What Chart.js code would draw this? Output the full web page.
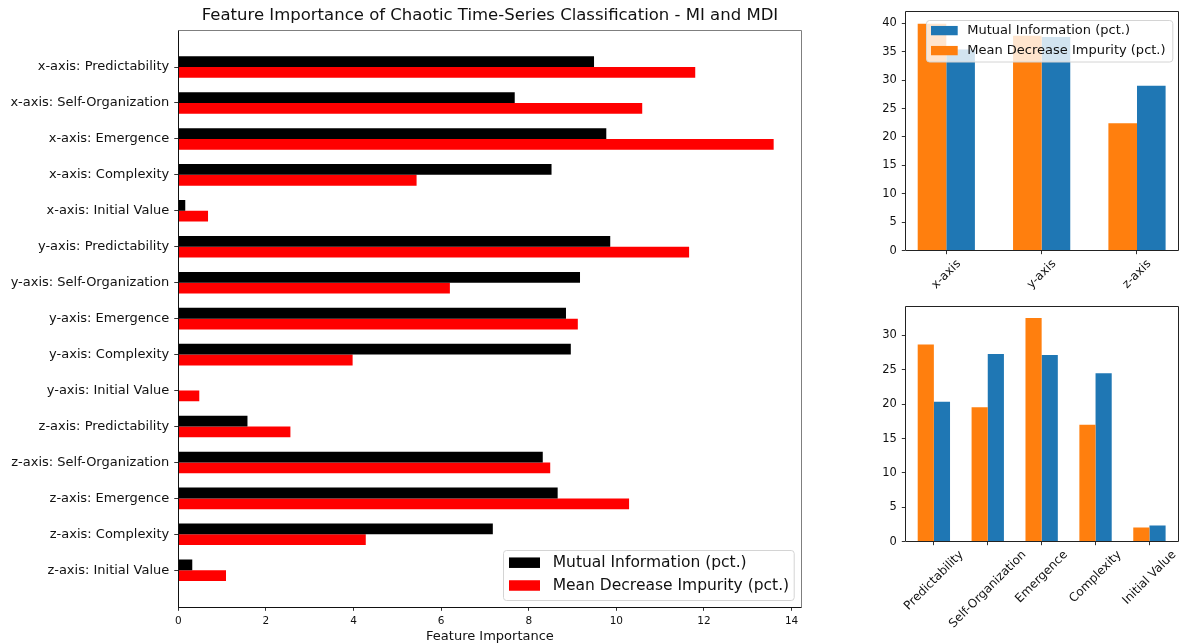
<!DOCTYPE html>
<html>
<head>
<meta charset="utf-8">
<script src="https://cdn.jsdelivr.net/npm/chart.js@4.4.1/dist/chart.umd.min.js"></script>
<style>
    body { margin: 0; background: #fff; }
    #page { position: relative; width: 1180px; height: 644px; overflow: hidden; }
    canvas { position: absolute; }
</style>
</head>
<body>
<div id="page">
    <canvas id="mainChart" width="820" height="644" style="left:0;top:0"></canvas>
    <canvas id="axisChart" width="340" height="295" style="left:840px;top:0"></canvas>
    <canvas id="propChart" width="340" height="349" style="left:840px;top:295px"></canvas>
</div>
<script>
const features = [
    'x-axis: Predictability', 'x-axis: Self-Organization', 'x-axis: Emergence', 'x-axis: Complexity', 'x-axis: Initial Value',
    'y-axis: Predictability', 'y-axis: Self-Organization', 'y-axis: Emergence', 'y-axis: Complexity', 'y-axis: Initial Value',
    'z-axis: Predictability', 'z-axis: Self-Organization', 'z-axis: Emergence', 'z-axis: Complexity', 'z-axis: Initial Value'
];
const miValues = [9.49, 7.68, 9.77, 8.52, 0.16, 9.86, 9.17, 8.85, 8.96, 0.0, 1.58, 8.32, 8.66, 7.18, 0.32];
const mdiValues = [11.80, 10.59, 13.59, 5.44, 0.68, 11.66, 6.20, 9.12, 3.98, 0.48, 2.56, 8.49, 10.29, 4.28, 1.09];
const mainTicks = [0, 2, 4, 6, 8, 10, 12, 14];

const axisNames = ['x-axis', 'y-axis', 'z-axis'];
const axisMI = [35.4, 37.6, 29.0];
const axisMDI = [39.9, 37.8, 22.4];

const propertyNames = ['Predictability', 'Self-Organization', 'Emergence', 'Complexity', 'Initial Value'];
const propertyMI = [20.36, 27.32, 27.17, 24.49, 2.35];
const propertyMDI = [28.68, 19.56, 32.53, 17.02, 2.07];

const FONT = "'DejaVu Sans', sans-serif";
Chart.defaults.font.family = FONT;
Chart.defaults.color = '#111';

function toPoints(values, horizontal) {
    return values.map((v, i) => horizontal ? { x: v, y: i } : { x: i, y: v });
}

// box around the plot area, one colour per side
const framePlugin = {
    id: 'frame',
    afterDraw(chart, args, opts) {
        const { ctx, chartArea: a } = chart;
        const l = Math.floor(a.left) + 0.5, r = Math.floor(a.right) + 0.5;
        const t = Math.floor(a.top) + 0.5, b = Math.floor(a.bottom) + 0.5;
        ctx.save();
        ctx.lineWidth = 1;
        [[l, t, r, t, opts.top], [r, t, r, b, opts.right], [l, b, r, b, opts.bottom], [l, t, l, b, opts.left]].forEach(s => {
            ctx.strokeStyle = s[4];
            ctx.beginPath();
            ctx.moveTo(s[0], s[1]);
            ctx.lineTo(s[2], s[3]);
            ctx.stroke();
        });
        ctx.restore();
    }
};

// legend drawn inside the plot area, like matplotlib
const boxLegendPlugin = {
    id: 'boxLegend',
    afterDraw(chart, args, opts) {
        if (!opts.order) return;
        const { ctx, chartArea: a } = chart;
        const left = a.right - opts.right - opts.width;
        const top = opts.fromBottom ? a.bottom - opts.bottom - opts.height : a.top + opts.top;
        ctx.save();
        ctx.beginPath();
        ctx.roundRect(Math.round(left) + 0.5, Math.round(top) + 0.5, opts.width, opts.height, 3);
        ctx.fillStyle = 'rgba(255,255,255,0.8)';
        ctx.fill();
        ctx.strokeStyle = '#d4d4d4';
        ctx.lineWidth = 1;
        ctx.stroke();
        ctx.font = opts.fontSize + 'px ' + FONT;
        ctx.textAlign = 'left';
        ctx.textBaseline = 'middle';
        opts.order.forEach((di, row) => {
            const ds = chart.data.datasets[di];
            const cy = top + opts.firstRow + row * opts.rowGap;
            ctx.fillStyle = ds.backgroundColor;
            ctx.fillRect(left + opts.patchX, cy - opts.patchH / 2, opts.patchW, opts.patchH);
            ctx.fillStyle = '#111';
            ctx.fillText(ds.label, left + opts.textX, cy);
        });
        ctx.restore();
    }
};

// 45 degree category labels centred on their tick
const slantPlugin = {
    id: 'slantLabels',
    afterDraw(chart, args, opts) {
        if (!opts.labels) return;
        const { ctx } = chart;
        const xs = chart.scales.x;
        ctx.save();
        ctx.font = opts.size + 'px ' + FONT;
        ctx.fillStyle = '#111';
        ctx.textAlign = 'center';
        ctx.textBaseline = 'middle';
        opts.labels.forEach((txt, i) => {
            const w = ctx.measureText(txt).width;
            const half = (w + opts.size) * Math.SQRT1_2 / 2;
            ctx.save();
            ctx.translate(xs.getPixelForValue(i), xs.top + opts.pad + half);
            ctx.rotate(-Math.PI / 4);
            ctx.fillText(txt, 0, 0);
            ctx.restore();
        });
        ctx.restore();
    }
};

const tickGrid = (len) => ({ offset: false, drawOnChartArea: false, drawTicks: true, tickLength: len, color: '#333' });

new Chart(document.getElementById('mainChart').getContext('2d'), {
    type: 'bar',
    data: {
        datasets: [
            { label: 'Mutual Information (pct.)', data: toPoints(miValues, true), backgroundColor: '#000000' },
            { label: 'Mean Decrease Impurity (pct.)', data: toPoints(mdiValues, true), backgroundColor: '#ff0000' }
        ]
    },
    options: {
        responsive: false,
        animation: false,
        indexAxis: 'y',
        layout: { padding: { right: 18.3 } },
        datasets: { bar: { categoryPercentage: 0.6, barPercentage: 1 } },
        scales: {
            y: {
                type: 'linear', reverse: true, offset: false, min: -1.03, max: 15.03,
                afterBuildTicks: s => { s.ticks = features.map((f, i) => ({ value: i })); },
                afterFit: s => { s.width = 178.25; },
                ticks: { callback: v => features[v], font: { size: 13 }, padding: 5, autoSkip: false },
                grid: tickGrid(4),
                border: { display: false }
            },
            x: {
                type: 'linear', min: 0, max: 14.23,
                afterBuildTicks: s => { s.ticks = mainTicks.map(v => ({ value: v })); },
                afterFit: s => { s.height = 36.7; },
                ticks: { font: { size: 10.5 }, padding: 4, maxRotation: 0 },
                grid: tickGrid(3.5),
                border: { display: false },
                title: { display: true, text: 'Feature Importance', font: { size: 13 }, padding: 0 }
            }
        },
        plugins: {
            legend: { display: false },
            tooltip: { enabled: false },
            title: {
                display: true, fullSize: false,
                text: 'Feature Importance of Chaotic Time-Series Classification - MI and MDI',
                font: { size: 16.5, weight: 'normal' },
                padding: { top: 6, bottom: 4.2 }
            },
            frame: { top: '#7f7f7f', right: '#7f7f7f', bottom: '#111', left: '#111' },
            boxLegend: {
                order: [0, 1], fromBottom: true, right: 7.7, bottom: 7.3, width: 290.7, height: 50,
                fontSize: 15.5, patchX: 5.7, patchW: 31, patchH: 10.5, firstRow: 12.7, rowGap: 22.8, textX: 49.4
            }
        }
    },
    plugins: [framePlugin, boxLegendPlugin]
});

function smallChart(id, names, mdi, mi, yMax, xMin, xMax, padTop, xHeight, legend) {
    return new Chart(document.getElementById(id).getContext('2d'), {
        type: 'bar',
        data: {
            datasets: [
                { label: 'Mean Decrease Impurity (pct.)', data: toPoints(mdi, false), backgroundColor: '#ff7f0e' },
                { label: 'Mutual Information (pct.)', data: toPoints(mi, false), backgroundColor: '#1f77b4' }
            ]
        },
        options: {
            responsive: false,
            animation: false,
            layout: { padding: { top: padTop, right: 2 } },
            datasets: { bar: { categoryPercentage: 0.6, barPercentage: 1 } },
            scales: {
                x: {
                    type: 'linear', offset: false, min: xMin, max: xMax,
                    afterBuildTicks: s => { s.ticks = names.map((n, i) => ({ value: i })); },
                    afterFit: s => { s.height = xHeight; },
                    ticks: { display: false },
                    grid: tickGrid(3.5),
                    border: { display: false }
                },
                y: {
                    min: 0, max: yMax,
                    afterFit: s => { s.width = 65.3; },
                    ticks: { stepSize: 5, includeBounds: false, font: { size: 11.5 }, padding: 5 },
                    grid: tickGrid(3.5),
                    border: { display: false }
                }
            },
            plugins: {
                legend: { display: false },
                tooltip: { enabled: false },
                frame: { top: '#222', right: '#222', bottom: '#222', left: '#222' },
                boxLegend: legend || {},
                slantLabels: { labels: names, size: 12, pad: 7 }
            }
        },
        plugins: [framePlugin, boxLegendPlugin, slantPlugin]
    });
}

smallChart('axisChart', axisNames, axisMDI, axisMI, 42, -0.43, 2.43, 6.7, 44.3, {
    order: [1, 0], fromBottom: false, right: 6, top: 8.3, width: 246.3, height: 41.5,
    fontSize: 13, patchX: 5.3, patchW: 26.7, patchH: 9.3, firstRow: 10.4, rowGap: 20, textX: 41.6
});
smallChart('propChart', propertyNames, propertyMDI, propertyMI, 34.16, -0.53, 4.53, 4, 102.3, null);
</script>
</body>
</html>
